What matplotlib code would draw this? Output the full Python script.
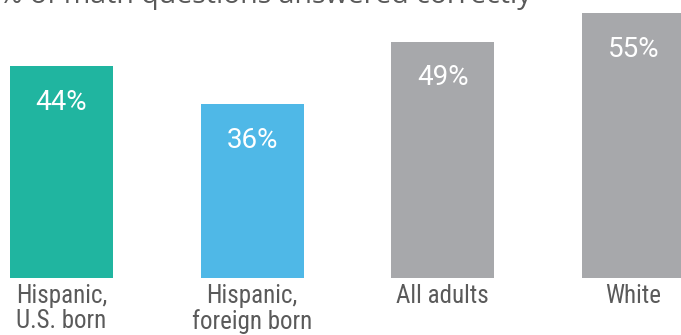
import matplotlib
matplotlib.use('Agg')
import matplotlib.pyplot as plt
from matplotlib import font_manager

categories = ['Hispanic,\nU.S. born', 'Hispanic,\nforeign born', 'All adults', 'White']
values = [44, 36, 49, 55]
colors = ['#20b5a0', '#4fb8e7', '#a7a8ab', '#a7a8ab']
subtitle = '% of math questions answered correctly'

names = {f.name for f in font_manager.fontManager.ttflist}
label_font = 'Roboto'
for cand in ['Roboto Condensed', 'Liberation Sans Narrow', 'Open Sans Condensed']:
    if cand in names:
        label_font = cand
        break

fig = plt.figure(figsize=(6.81, 3.35), dpi=100)
ax = fig.add_axes([0, 0.1701, 1, 0.8299])

x = list(range(len(values)))
ax.bar(x, values, width=0.54, color=colors)
ax.set_xlim(-0.3225, 3.249)
ax.set_ylim(0, 57.68)
ax.axis('off')

lsize = 18 if label_font != 'Roboto' else 16
for i, v in enumerate(values):
    ax.annotate(f'{v}%', (i, v), xytext=(0, -26), textcoords='offset points',
                ha='center', va='center', color='white', fontsize=20,
                family='Roboto')
    ax.annotate(categories[i], (i, 0), xytext=(0, -4), textcoords='offset points',
                ha='center', va='top', color='#5a5a5a', fontsize=lsize,
                family=label_font, linespacing=1.08)

fig.text(-0.002, 1 - 3.5 / 335, subtitle, ha='left', va='baseline', fontsize=20.5,
         color='#595959', family='Open Sans')

fig.savefig('out.png', dpi=100)
